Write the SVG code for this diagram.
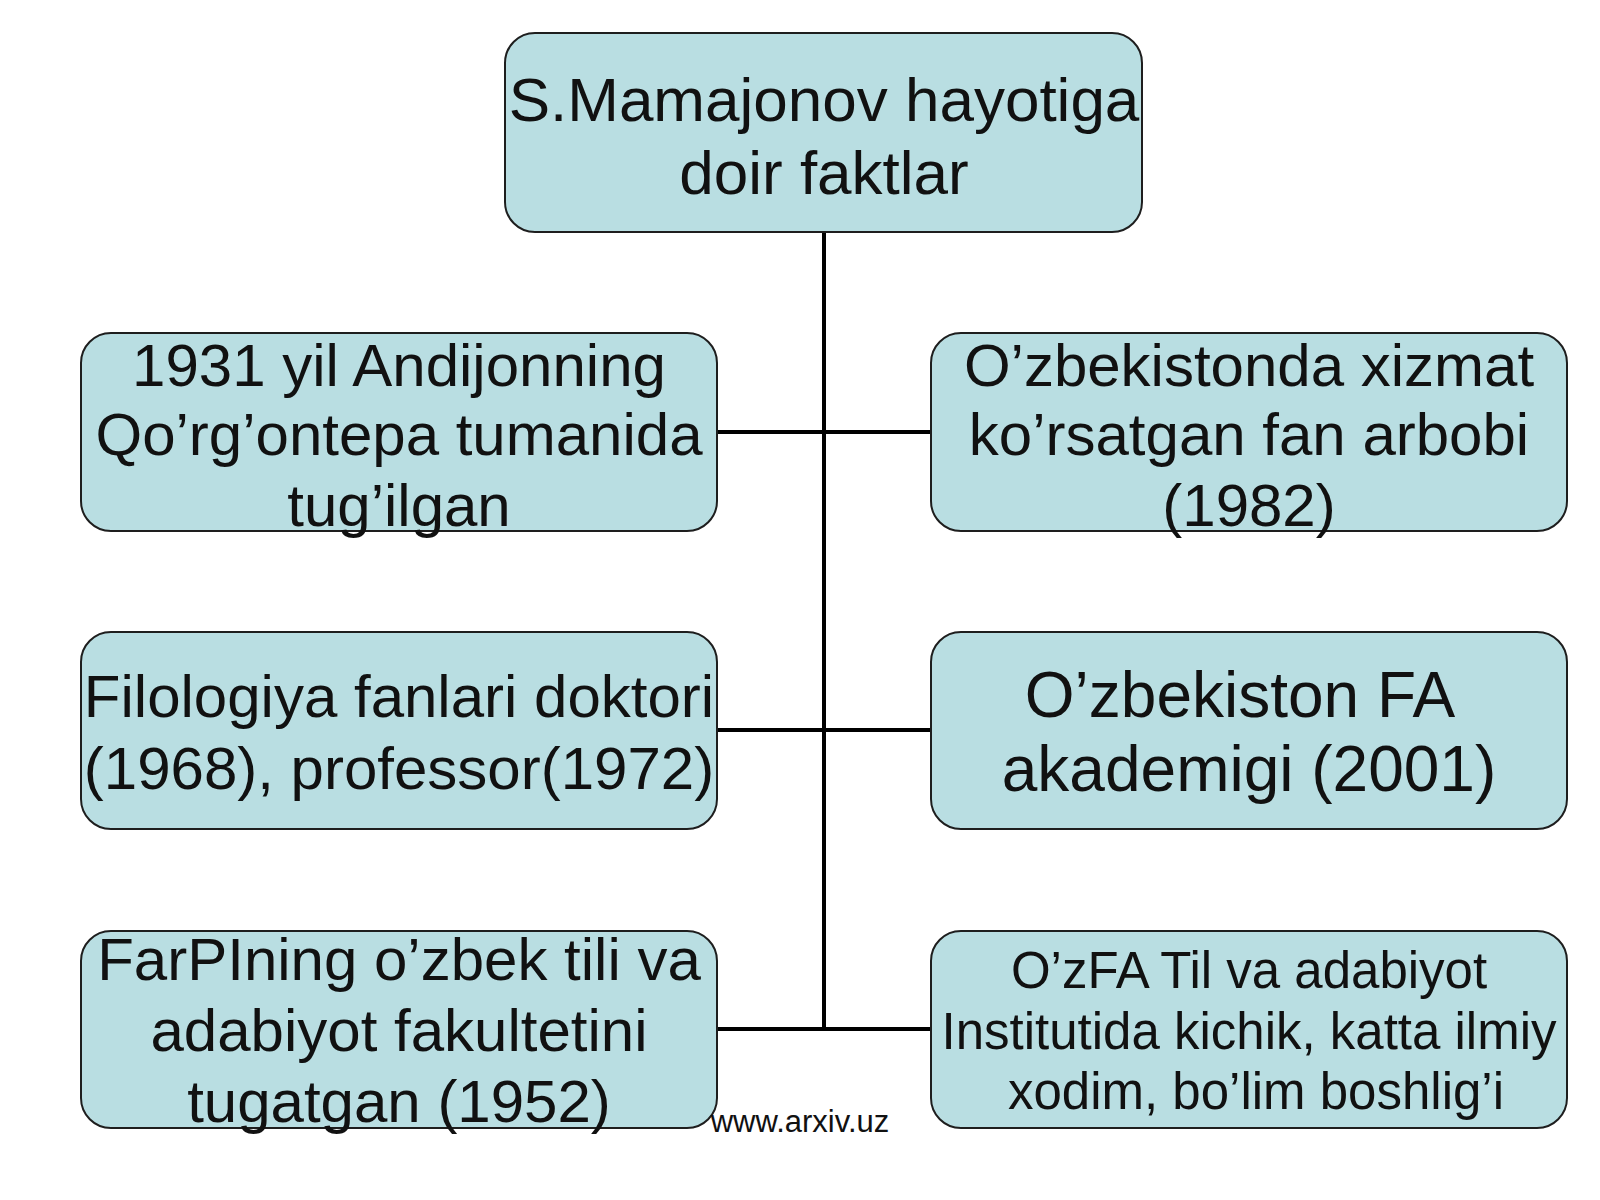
<svg xmlns="http://www.w3.org/2000/svg" width="1600" height="1200" viewBox="0 0 1600 1200">
<style>
.box{fill:#b9dee2;stroke:#1e1e1e;stroke-width:2}
.t{font-family:"Liberation Sans",Arial,sans-serif;fill:#111;text-anchor:middle}
.c{stroke:#000;stroke-width:4;fill:none}
</style>
<rect width="1600" height="1200" fill="#ffffff"/>
<g id="connectors">
<line class="c" x1="824" y1="232" x2="824" y2="1029"/>
<line class="c" x1="717" y1="432" x2="931" y2="432"/>
<line class="c" x1="717" y1="730" x2="931" y2="730"/>
<line class="c" x1="717" y1="1029" x2="931" y2="1029"/>
</g>
<g id="root">
<rect class="box" x="505" y="33" width="637" height="199" rx="30"/>
<text class="t" font-size="62" x="824"><tspan x="824" y="121">S.Mamajonov hayotiga</tspan><tspan x="824" y="194">doir faktlar</tspan></text>
</g>
<g id="born">
<rect class="box" x="81" y="333" width="636" height="198" rx="30"/>
<text class="t" font-size="60"><tspan x="399" y="386">1931 yil Andijonning</tspan><tspan x="399" y="455">Qo’rg’ontepa tumanida</tspan><tspan x="399" y="526">tug’ilgan</tspan></text>
</g>
<g id="honored">
<rect class="box" x="931" y="333" width="636" height="198" rx="30"/>
<text class="t" font-size="60"><tspan x="1249" y="386">O’zbekistonda xizmat</tspan><tspan x="1249" y="455">ko’rsatgan fan arbobi</tspan><tspan x="1249" y="526">(1982)</tspan></text>
</g>
<g id="doctor">
<rect class="box" x="81" y="632" width="636" height="197" rx="30"/>
<text class="t" font-size="60"><tspan x="399" y="717">Filologiya fanlari doktori</tspan><tspan x="399" y="789">(1968), professor(1972)</tspan></text>
</g>
<g id="academician">
<rect class="box" x="931" y="632" width="636" height="197" rx="30"/>
<text class="t" font-size="64"><tspan x="1240" y="717">O’zbekiston FA</tspan><tspan x="1249" y="791">akademigi (2001)</tspan></text>
</g>
<g id="graduated">
<rect class="box" x="81" y="931" width="636" height="197" rx="30"/>
<text class="t" font-size="60"><tspan x="399" y="980">FarPIning o’zbek tili va</tspan><tspan x="399" y="1051">adabiyot fakultetini</tspan><tspan x="399" y="1122">tugatgan (1952)</tspan></text>
</g>
<g id="institute">
<rect class="box" x="931" y="931" width="636" height="197" rx="30"/>
<text class="t" font-size="51"><tspan x="1249" y="988">O’zFA Til va adabiyot</tspan><tspan x="1249" y="1049">Institutida kichik, katta ilmiy</tspan><tspan x="1256" y="1109">xodim, bo’lim boshlig’i</tspan></text>
</g>
<text class="t" font-size="31" x="800" y="1132">www.arxiv.uz</text>
</svg>
